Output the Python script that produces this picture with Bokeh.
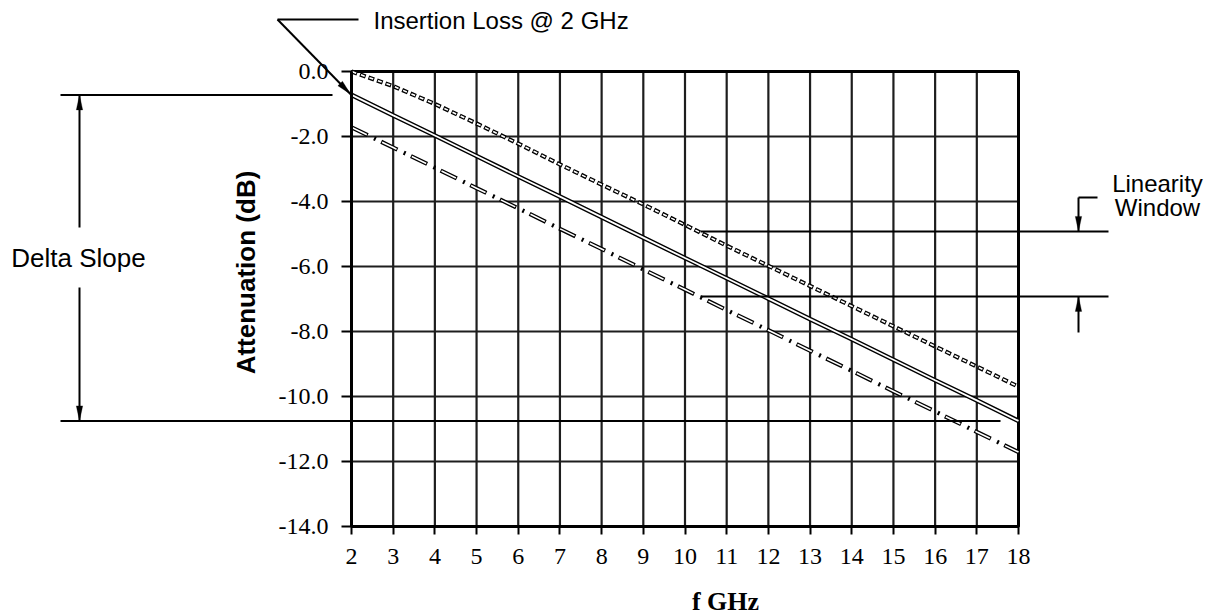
import math
from bokeh.plotting import figure
from bokeh.models import (Range1d, FixedTicker, PrintfTickFormatter, Label, Arrow,
                          PolyAnnotation, LinearAxis)
from bokeh.embed import file_html
from bokeh.resources import INLINE

# ---------------- data ----------------
freq_ghz = [2, 3, 4, 5, 6, 7, 8, 9, 10, 11, 12, 13, 14, 15, 16, 17, 18]
loss_solid = [-0.72, -1.35, -1.97, -2.60, -3.23, -3.85, -4.48, -5.11, -5.74,
              -6.36, -6.99, -7.62, -8.24, -8.87, -9.50, -10.12, -10.75]
loss_dashed = [0.0, -0.45, -1.00, -1.60, -2.22, -2.86, -3.48, -4.09, -4.72,
               -5.36, -5.98, -6.60, -7.22, -7.84, -8.46, -9.08, -9.70]
loss_dashdot = [-1.72, -2.34, -2.96, -3.59, -4.21, -4.84, -5.46, -6.09, -6.71,
                -7.34, -7.96, -8.59, -9.21, -9.84, -10.46, -11.09, -11.71]
x_ticks = [2, 3, 4, 5, 6, 7, 8, 9, 10, 11, 12, 13, 14, 15, 16, 17, 18]
y_ticks = [0, -2, -4, -6, -8, -10, -12, -14]

x_min, x_max = 2, 18
y_min, y_max = -14, 0

delta_top = loss_solid[0]
delta_bottom = loss_solid[-1]
window_top = -4.92
window_bottom = -6.92

# ---------------- layout helpers (canvas pixels <-> data) ----------------
W, H = 1204, 615
X0_PX, X_SCALE = 351.0, 41.6875      # px of x=2, px per GHz
Y0_PX, Y_SCALE = 71.0, 32.5          # px of y=0, px per dB


def dx(px):
    return x_min + (px - X0_PX) / X_SCALE


def dy(py):
    return y_max - (py - Y0_PX) / Y_SCALE


def px_of(x):
    return X0_PX + (x - x_min) * X_SCALE


def py_of(y):
    return Y0_PX - (y - y_max) * Y_SCALE


p = figure(width=W, height=H, x_range=Range1d(dx(0), dx(W)), y_range=Range1d(dy(H), dy(0)),
           output_backend="svg", toolbar_location=None, title=None,
           x_axis_type=None, y_axis_type=None)
p.min_border = 0
p.min_border_left = 0
p.min_border_right = 0
p.min_border_top = 0
p.min_border_bottom = 0
p.background_fill_color = "white"
p.border_fill_color = "white"
p.outline_line_color = None
p.grid.visible = False

# grid (every tick of the two axes, limited to the plotting box)
p.segment(x0=x_ticks, y0=[y_min] * len(x_ticks), x1=x_ticks, y1=[y_max] * len(x_ticks),
          line_color="#1e1e1e", line_width=2.2)
p.segment(x0=[x_min] * len(y_ticks), y0=y_ticks, x1=[x_max] * len(y_ticks), y1=y_ticks,
          line_color="#1e1e1e", line_width=2.2)
# plot box border
p.quad(left=[x_min], right=[x_max], bottom=[y_min], top=[y_max], fill_color=None,
       line_color="black", line_width=3)

# axes fixed at the box edges
xaxis = LinearAxis(fixed_location=y_min, bounds=(x_min, x_max),
                   ticker=FixedTicker(ticks=x_ticks),
                   formatter=PrintfTickFormatter(format="%d"))
yaxis = LinearAxis(fixed_location=x_min, bounds=(y_min, y_max),
                   ticker=FixedTicker(ticks=y_ticks),
                   formatter=PrintfTickFormatter(format="%.1f"))
for ax in (xaxis, yaxis):
    ax.axis_line_color = "black"
    ax.axis_line_width = 3
    ax.major_tick_line_color = "black"
    ax.major_tick_line_width = 2
    ax.major_tick_in = 0
    ax.minor_tick_line_color = None
    ax.major_label_text_font = "Liberation Serif"
    ax.major_label_text_font_size = "24px"
    ax.major_label_text_color = "black"
xaxis.major_tick_out = 8
xaxis.major_label_standoff = 14
yaxis.major_tick_out = 10
yaxis.major_label_standoff = 13
p.add_layout(xaxis, "below")
p.add_layout(yaxis, "left")

# series: hollow (outlined) strokes
p.line(freq_ghz, loss_solid, line_color="black", line_width=4.6)
p.line(freq_ghz, loss_solid, line_color="white", line_width=1.8)

p.line(freq_ghz, loss_dashed, line_color="black", line_width=4.2, line_dash="6 3")
p.line(freq_ghz, loss_dashed, line_color="white", line_width=1.6, line_dash="4 5",
       line_dash_offset=8)

p.line(freq_ghz, loss_dashdot, line_color="black", line_width=4.2, line_dash="18 7 2 6")
p.line(freq_ghz, loss_dashdot, line_color="white", line_width=1.6, line_dash="16 17",
       line_dash_offset=32)


# ---------------- annotations ----------------
def seg(x0, y0, x1, y1, w=2):
    p.add_layout(Arrow(x_start=x0, y_start=y0, x_end=x1, y_end=y1, start=None, end=None,
                       line_color="black", line_width=w))


def head(tip_x, tip_y, from_x, from_y, length=15, half=3.2):
    tx, ty = px_of(tip_x), py_of(tip_y)
    fx, fy = px_of(from_x), py_of(from_y)
    vx, vy = fx - tx, fy - ty
    n = math.hypot(vx, vy)
    ux, uy = vx / n, vy / n
    bx, by = tx + ux * length, ty + uy * length
    pts = [(tx, ty), (bx - uy * half, by + ux * half), (bx + uy * half, by - ux * half)]
    p.add_layout(PolyAnnotation(xs=[dx(a) for a, _ in pts], ys=[dy(b) for _, b in pts],
                                fill_color="black", fill_alpha=1.0,
                                line_color="black", line_width=1))


def arrow(x0, y0, x1, y1):
    seg(x0, y0, x1, y1)
    head(x1, y1, x0, y0)


# Delta slope reference lines and arrows
seg(dx(60), delta_top, dx(332), delta_top)
seg(dx(60), delta_bottom, dx(1000), delta_bottom)
arrow(dx(79), dy(227), dx(79), delta_top)
arrow(dx(79), dy(287), dx(79), delta_bottom)

# Linearity window
seg(dx(700), window_top, dx(1108), window_top)
seg(dx(700), window_bottom, dx(1108), window_bottom)
seg(dx(1097), dy(197), dx(1078), dy(197))
arrow(dx(1078), dy(197), dx(1078), window_top)
arrow(dx(1078), dy(332), dx(1078), window_bottom)

# Insertion loss pointer
seg(dx(358), dy(19), dx(277), dy(19))
arrow(dx(277), dy(19), freq_ghz[0] - 0.02, loss_solid[0] + 0.02)

sans = "Liberation Sans"
p.add_layout(Label(x=dx(373), y=dy(20), text="Insertion Loss @ 2 GHz", text_font=sans,
                   text_font_size="24px", text_align="left", text_baseline="middle",
                   text_color="black"))
p.add_layout(Label(x=dx(78), y=dy(257), text="Delta Slope", text_font=sans,
                   text_font_size="26px", text_align="center", text_baseline="middle",
                   text_color="black"))
p.add_layout(Label(x=dx(1157), y=dy(183), text="Linearity", text_font=sans,
                   text_font_size="24px", text_align="center", text_baseline="middle",
                   text_color="black"))
p.add_layout(Label(x=dx(1157), y=dy(207), text="Window", text_font=sans,
                   text_font_size="24px", text_align="center", text_baseline="middle",
                   text_color="black"))
p.add_layout(Label(x=dx(245), y=dy(272), text="Attenuation (dB)", text_font=sans,
                   text_font_style="bold", text_font_size="26px", angle=90,
                   angle_units="deg", text_align="center", text_baseline="middle",
                   text_color="black"))
p.add_layout(Label(x=dx(725), y=dy(601), text="f GHz", text_font="Liberation Serif",
                   text_font_style="bold", text_font_size="26px", text_align="center",
                   text_baseline="middle", text_color="black"))

open("out.html", "w").write(file_html(p, INLINE))
